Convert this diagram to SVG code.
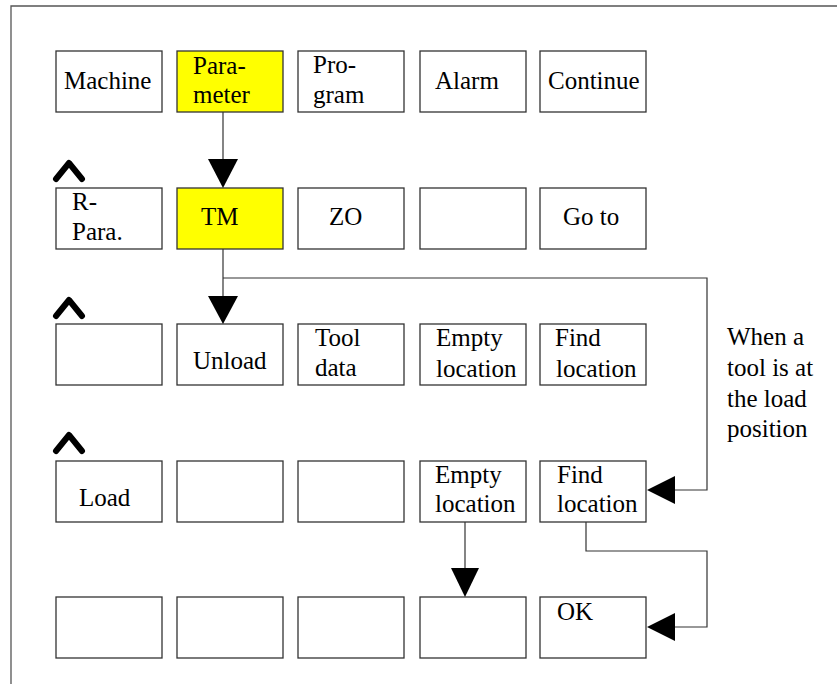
<svg xmlns="http://www.w3.org/2000/svg" width="837" height="684" viewBox="0 0 837 684">
<style>
.box{fill:#fff;stroke:#333;stroke-width:1.3}
.hl{fill:#ffff00}
.t{font-family:"Liberation Serif","Times New Roman",serif;font-size:25px;fill:#000}
.con{fill:none;stroke:#333;stroke-width:1.2}
.ah{fill:#000}
.caret{fill:none;stroke:#000;stroke-width:6;stroke-linecap:round;stroke-linejoin:round}
.frame{fill:none;stroke:#555;stroke-width:1.3}
</style>
<rect width="837" height="684" fill="#fff"/>
<path class="frame" d="M11,684 V6 H837"/>
<g id="carets">
<path class="caret" d="M56,179 L69,163 L82,179"/>
<path class="caret" d="M56,316 L69,300 L82,316"/>
<path class="caret" d="M56,451 L69,435 L82,451"/>
</g>
<g id="row1">
<g id="n-machine"><rect class="box" x="56" y="51" width="106" height="61"/><text class="t" x="64" y="89">Machine</text></g>
<g id="n-parameter"><rect class="box hl" x="177" y="51" width="106" height="61"/><text class="t" x="193" y="74">Para-</text><text class="t" x="193" y="103">meter</text></g>
<g id="n-program"><rect class="box" x="298" y="51" width="106" height="61"/><text class="t" x="313" y="73">Pro-</text><text class="t" x="313" y="103">gram</text></g>
<g id="n-alarm"><rect class="box" x="420" y="51" width="106" height="61"/><text class="t" x="435" y="89">Alarm</text></g>
<g id="n-continue"><rect class="box" x="540" y="51" width="106" height="61"/><text class="t" x="548" y="89">Continue</text></g>
</g>
<g id="row2">
<g id="n-rpara"><rect class="box" x="56" y="188" width="106" height="61"/><text class="t" x="72" y="210">R-</text><text class="t" x="72" y="240">Para.</text></g>
<g id="n-tm"><rect class="box hl" x="177" y="188" width="106" height="61"/><text class="t" x="201" y="225">TM</text></g>
<g id="n-zo"><rect class="box" x="298" y="188" width="106" height="61"/><text class="t" x="329" y="225">ZO</text></g>
<g id="n-r2c4"><rect class="box" x="420" y="188" width="106" height="61"/></g>
<g id="n-goto"><rect class="box" x="540" y="188" width="106" height="61"/><text class="t" x="563" y="225">Go to</text></g>
</g>
<g id="row3">
<g id="n-r3c1"><rect class="box" x="56" y="324" width="106" height="61"/></g>
<g id="n-unload"><rect class="box" x="177" y="324" width="106" height="61"/><text class="t" x="193" y="369">Unload</text></g>
<g id="n-tooldata"><rect class="box" x="298" y="324" width="106" height="61"/><text class="t" x="315" y="346">Tool</text><text class="t" x="315" y="376">data</text></g>
<g id="n-empty1"><rect class="box" x="420" y="324" width="106" height="61"/><text class="t" x="436" y="346">Empty</text><text class="t" x="436" y="377">location</text></g>
<g id="n-find1"><rect class="box" x="540" y="324" width="106" height="61"/><text class="t" x="555" y="346">Find</text><text class="t" x="556" y="377">location</text></g>
</g>
<g id="row4">
<g id="n-load"><rect class="box" x="56" y="461" width="106" height="61"/><text class="t" x="79" y="506">Load</text></g>
<g id="n-r4c2"><rect class="box" x="177" y="461" width="106" height="61"/></g>
<g id="n-r4c3"><rect class="box" x="298" y="461" width="106" height="61"/></g>
<g id="n-empty2"><rect class="box" x="420" y="461" width="106" height="61"/><text class="t" x="435" y="483">Empty</text><text class="t" x="435" y="512">location</text></g>
<g id="n-find2"><rect class="box" x="540" y="461" width="106" height="61"/><text class="t" x="557" y="483">Find</text><text class="t" x="557" y="512">location</text></g>
</g>
<g id="row5">
<g id="n-r5c1"><rect class="box" x="56" y="597" width="106" height="61"/></g>
<g id="n-r5c2"><rect class="box" x="177" y="597" width="106" height="61"/></g>
<g id="n-r5c3"><rect class="box" x="298" y="597" width="106" height="61"/></g>
<g id="n-r5c4"><rect class="box" x="420" y="597" width="106" height="61"/></g>
<g id="n-ok"><rect class="box" x="540" y="597" width="106" height="61"/><text class="t" x="557" y="620">OK</text></g>
</g>
<g id="note"><text class="t" x="727" y="345">When a</text><text class="t" x="727" y="376">tool is at</text><text class="t" x="727" y="407">the load</text><text class="t" x="727" y="437">position</text></g>
<g id="connectors">
<path class="con" d="M223,112 V160"/>
<polygon class="ah" points="208,159 238,159 223,188"/>
<path class="con" d="M223,249 V297"/>
<polygon class="ah" points="208,296 238,296 223,324"/>
<path class="con" d="M223,278 H707 V490 H674"/>
<polygon class="ah" points="675,476 675,504 647,490"/>
<path class="con" d="M465,522 V569"/>
<polygon class="ah" points="451,568 479,568 465,597"/>
<path class="con" d="M586,522 V551 H707 V627 H674"/>
<polygon class="ah" points="675,613 675,641 647,627"/>
</g>
</svg>
